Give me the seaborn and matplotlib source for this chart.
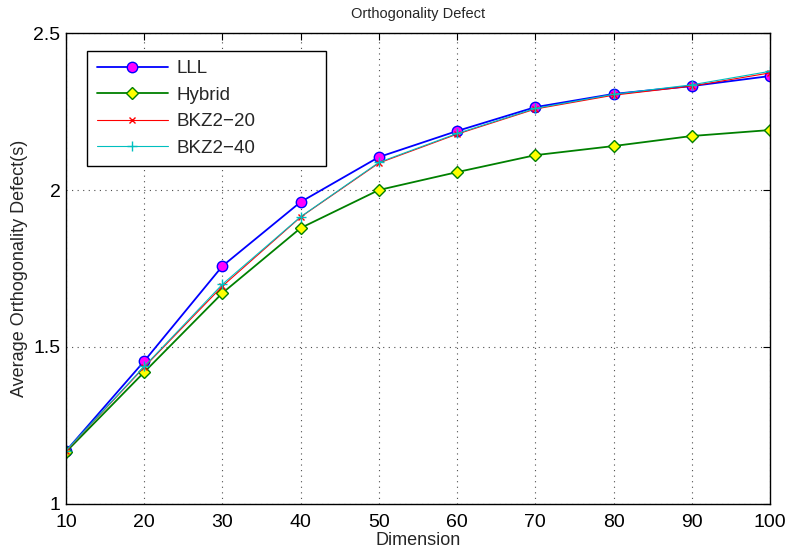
import matplotlib
matplotlib.use("Agg")
import matplotlib.pyplot as plt
import seaborn as sns
import pandas as pd

# Lattice dimension and average orthogonality defect per reduction method
dimension = [10, 20, 30, 40, 50, 60, 70, 80, 90, 100]
lll = [1.169, 1.455, 1.758, 1.962, 2.105, 2.188, 2.264, 2.306, 2.331, 2.363]
hybrid = [1.166, 1.420, 1.672, 1.879, 2.000, 2.057, 2.111, 2.140, 2.172, 2.191]
bkz2_20 = [1.169, 1.436, 1.694, 1.914, 2.086, 2.178, 2.258, 2.302, 2.331, 2.373]
bkz2_40 = [1.170, 1.438, 1.700, 1.915, 2.088, 2.180, 2.260, 2.305, 2.335, 2.378]

x_ticks = [10, 20, 30, 40, 50, 60, 70, 80, 90, 100]
y_ticks = [1, 1.5, 2, 2.5]
y_tick_labels = ["1", "1.5", "2", "2.5"]

sns.set_style("white")
plt.rcParams["font.family"] = ["Liberation Sans", "DejaVu Sans"]

fig = plt.figure(figsize=(7.88, 5.54), dpi=100)
ax = fig.add_axes([0.0838, 0.0903, 0.8934, 0.8501])

series = [
    ("LLL", lll, dict(color="#0000ff", marker="o", markersize=7.5,
                      markerfacecolor="#ff00ff", markeredgecolor="#0000ff",
                      markeredgewidth=1.0, linewidth=1.3)),
    ("Hybrid", hybrid, dict(color="#008000", marker="D", markersize=6.5,
                            markerfacecolor="#ffff00", markeredgecolor="#008000",
                            markeredgewidth=1.0, linewidth=1.3)),
    ("BKZ2\u221220", bkz2_20, dict(color="#ff0000", marker="x", markersize=5,
                                  markeredgecolor="#ff0000",
                                  markeredgewidth=1.0, linewidth=0.8)),
    ("BKZ2\u221240", bkz2_40, dict(color="#00bfbf", marker="+", markersize=6.5,
                                  markeredgecolor="#00bfbf",
                                  markeredgewidth=1.0, linewidth=0.8)),
]

for name, values, style in series:
    df = pd.DataFrame({"Dimension": dimension, "value": values})
    sns.lineplot(data=df, x="Dimension", y="value", ax=ax, label=name, **style)

ax.set_xlim(10, 100)
ax.set_ylim(1, 2.5)
ax.set_xticks(x_ticks)
ax.set_xticklabels([str(t) for t in x_ticks])
ax.set_yticks(y_ticks)
ax.set_yticklabels(y_tick_labels)

ax.grid(True, linestyle=(0, (1, 4)), color="0.3", linewidth=0.8)
ax.tick_params(direction="in", top=True, right=True, length=5, width=0.8,
               labelsize=14, colors="black")
ax.tick_params(axis="x", pad=7)
ax.tick_params(axis="y", pad=4)
for spine in ax.spines.values():
    spine.set_visible(True)
    spine.set_color("black")
    spine.set_linewidth(1.0)

ax.set_title("Orthogonality Defect", fontsize=10.5, pad=11)
ax.set_xlabel("Dimension", fontsize=13, labelpad=1)
ax.set_ylabel("Average Orthogonality Defect(s)", fontsize=13, labelpad=4)

leg = ax.legend(loc="upper left", bbox_to_anchor=(0.03, 0.962, 0.3395, 0),
                mode="expand", borderaxespad=0,
                fontsize=13.5, handlelength=3.8, frameon=True, fancybox=False,
                edgecolor="black", framealpha=1, borderpad=0.5,
                labelspacing=0.5, handletextpad=0.45)
leg.get_frame().set_linewidth(1.0)

fig.savefig("out.png", dpi=100)
